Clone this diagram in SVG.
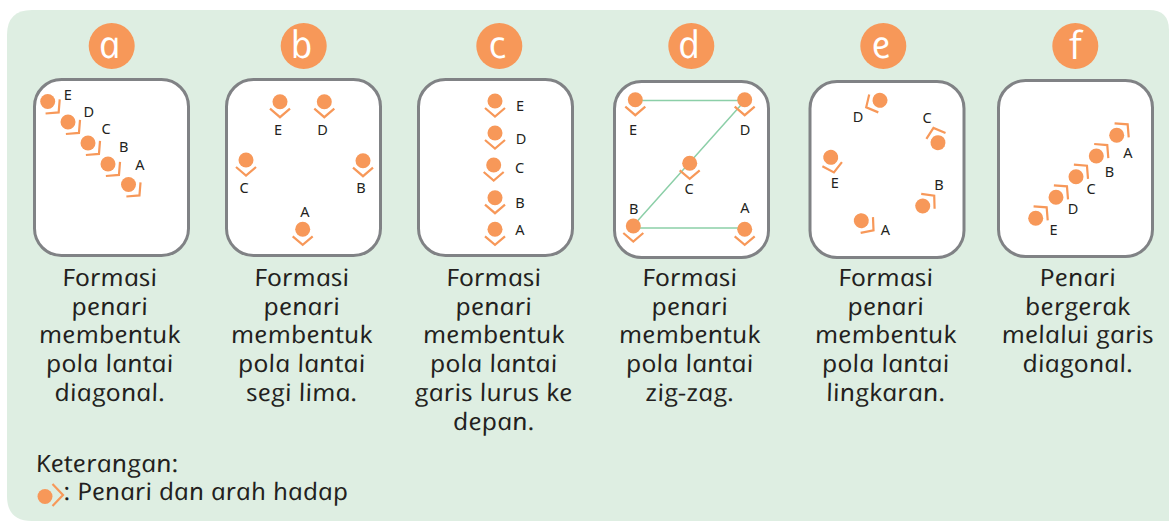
<svg xmlns="http://www.w3.org/2000/svg" width="1169" height="521" viewBox="0 0 1169 521">
<style>
.panel{fill:#fff;stroke:#808285;stroke-width:3}
.badge{fill:#f79859}
.letter{font:italic 38px "Open Sans",sans-serif;fill:#fff;text-anchor:middle}
.letter-up{font:38px "Open Sans",sans-serif;fill:#fff;text-anchor:middle}
.cap{font:italic 24px "Open Sans",sans-serif;fill:#231f20;text-anchor:middle}
.leg{font:italic 24px "Open Sans",sans-serif;fill:#231f20}
.lab{font:14.5px "Noto Sans",sans-serif;fill:#231f20;text-anchor:middle}
.conn{fill:none;stroke:#8ccfa8;stroke-width:1.5}
.chev{fill:none;stroke:#f79859;stroke-width:2.2}
</style>
<defs>
<g id="dancer"><circle r="7.5" fill="#f79859"/><path class="chev" d="M-10 7L0 15.5L10 7"/></g>
</defs>
<path d="M32 10H1149Q1169 10 1169 30V521H32Q7 521 7 496V35Q7 10 32 10Z" fill="#deeee2"/>
<g id="panel-a"><circle class="badge" cx="111.7" cy="46" r="23"/><text class="letter" transform="translate(111.7 58) skewX(12)">a</text><rect class="panel" x="34.5" y="79.5" width="154" height="176" rx="27"/>
<g><text class="cap" transform="translate(111 286) skewX(12) scale(1.115 1)">Formasi</text><text class="cap" transform="translate(111 315) skewX(12) scale(1.115 1)">penari</text><text class="cap" transform="translate(111 343) skewX(12) scale(1.115 1)">membentuk</text><text class="cap" transform="translate(111 372) skewX(12) scale(1.115 1)">pola lantai</text><text class="cap" transform="translate(111 401) skewX(12) scale(1.115 1)">diagonal.</text></g></g>
<g id="panel-b"><circle class="badge" cx="303.7" cy="46" r="23"/><text class="letter" transform="translate(303.7 58) skewX(12)">b</text><rect class="panel" x="226.5" y="79.5" width="154" height="176" rx="27"/>
<g><text class="cap" transform="translate(303 286) skewX(12) scale(1.115 1)">Formasi</text><text class="cap" transform="translate(303 315) skewX(12) scale(1.115 1)">penari</text><text class="cap" transform="translate(303 343) skewX(12) scale(1.115 1)">membentuk</text><text class="cap" transform="translate(303 372) skewX(12) scale(1.115 1)">pola lantai</text><text class="cap" transform="translate(303 401) skewX(12) scale(1.115 1)">segi lima.</text></g></g>
<g id="panel-c"><circle class="badge" cx="499.3" cy="46" r="23"/><text class="letter" transform="translate(499.3 58) skewX(12)">c</text><rect class="panel" x="418.5" y="79.5" width="154" height="176" rx="27"/>
<g><text class="cap" transform="translate(495 286) skewX(12) scale(1.115 1)">Formasi</text><text class="cap" transform="translate(495 315) skewX(12) scale(1.115 1)">penari</text><text class="cap" transform="translate(495 343) skewX(12) scale(1.115 1)">membentuk</text><text class="cap" transform="translate(495 372) skewX(12) scale(1.115 1)">pola lantai</text><text class="cap" transform="translate(495 401) skewX(12) scale(1.115 1)">garis lurus ke</text><text class="cap" transform="translate(495 430) skewX(12) scale(1.115 1)">depan.</text></g></g>
<g id="panel-d"><circle class="badge" cx="691.3" cy="46" r="23"/><text class="letter" transform="translate(691.3 58) skewX(12)">d</text><rect class="panel" x="614.5" y="81.5" width="154" height="176" rx="27"/>
<g><text class="cap" transform="translate(691 286) skewX(12) scale(1.115 1)">Formasi</text><text class="cap" transform="translate(691 315) skewX(12) scale(1.115 1)">penari</text><text class="cap" transform="translate(691 343) skewX(12) scale(1.115 1)">membentuk</text><text class="cap" transform="translate(691 372) skewX(12) scale(1.115 1)">pola lantai</text><text class="cap" transform="translate(691 401) skewX(12) scale(1.115 1)">zig-zag.</text></g></g>
<g id="panel-e"><circle class="badge" cx="883.3" cy="46" r="23"/><text class="letter" transform="translate(883.3 58) skewX(12)">e</text><rect class="panel" x="810" y="81.5" width="154" height="176" rx="27"/>
<g><text class="cap" transform="translate(887 286) skewX(12) scale(1.115 1)">Formasi</text><text class="cap" transform="translate(887 315) skewX(12) scale(1.115 1)">penari</text><text class="cap" transform="translate(887 343) skewX(12) scale(1.115 1)">membentuk</text><text class="cap" transform="translate(887 372) skewX(12) scale(1.115 1)">pola lantai</text><text class="cap" transform="translate(887 401) skewX(12) scale(1.115 1)">lingkaran.</text></g></g>
<g id="panel-f"><circle class="badge" cx="1075.3" cy="46" r="23"/><text class="letter-up" x="1075.3" y="59">f</text><rect class="panel" x="998.5" y="80.5" width="154" height="176" rx="27"/>
<g><text class="cap" transform="translate(1079 286) skewX(12) scale(1.115 1)">Penari</text><text class="cap" transform="translate(1079 315) skewX(12) scale(1.115 1)">bergerak</text><text class="cap" transform="translate(1079 343) skewX(12) scale(1.115 1)">melalui garis</text><text class="cap" transform="translate(1079 372) skewX(12) scale(1.115 1)">diagonal.</text></g></g>
<g id="connectors"><path class="conn" d="M635 100.5H745L633 226M633 228H745"/></g>
<g id="dancers-a">
<g id="a-E"><use href="#dancer" transform="translate(47.7 101.5) rotate(-45)"/><text class="lab" x="67.7" y="100">E</text></g>
<g id="a-D"><use href="#dancer" transform="translate(68 122) rotate(-45)"/><text class="lab" x="88.7" y="117">D</text></g>
<g id="a-C"><use href="#dancer" transform="translate(88 143) rotate(-45)"/><text class="lab" x="106" y="134">C</text></g>
<g id="a-B"><use href="#dancer" transform="translate(108 164) rotate(-45)"/><text class="lab" x="123.7" y="152">B</text></g>
<g id="a-A"><use href="#dancer" transform="translate(128.5 184.5) rotate(-45)"/><text class="lab" x="140" y="170">A</text></g>
</g>
<g id="dancers-b">
<g id="b-E"><use href="#dancer" transform="translate(280 101.7)"/><text class="lab" x="278" y="135">E</text></g>
<g id="b-D"><use href="#dancer" transform="translate(324.3 101.7)"/><text class="lab" x="322.5" y="135">D</text></g>
<g id="b-C"><use href="#dancer" transform="translate(246 160)"/><text class="lab" x="244" y="193">C</text></g>
<g id="b-B"><use href="#dancer" transform="translate(363 160.7)"/><text class="lab" x="361" y="193">B</text></g>
<g id="b-A"><use href="#dancer" transform="translate(302.7 229.3)"/><text class="lab" x="305" y="217">A</text></g>
</g>
<g id="dancers-c">
<g id="c-E"><use href="#dancer" transform="translate(495 101)"/><text class="lab" x="520" y="111">E</text></g>
<g id="c-D"><use href="#dancer" transform="translate(495 133)"/><text class="lab" x="521" y="144">D</text></g>
<g id="c-C"><use href="#dancer" transform="translate(493.7 165)"/><text class="lab" x="519.7" y="172.5">C</text></g>
<g id="c-B"><use href="#dancer" transform="translate(495 197.7)"/><text class="lab" x="520" y="208">B</text></g>
<g id="c-A"><use href="#dancer" transform="translate(495 229.3)"/><text class="lab" x="520" y="235">A</text></g>
</g>
<g id="dancers-d">
<g id="d-E"><use href="#dancer" transform="translate(635.3 99.7)"/><text class="lab" x="633" y="135">E</text></g>
<g id="d-D"><use href="#dancer" transform="translate(744.7 99.7)"/><text class="lab" x="745" y="135">D</text></g>
<g id="d-C"><use href="#dancer" transform="translate(689.7 163.3)"/><text class="lab" x="689" y="194">C</text></g>
<g id="d-B"><use href="#dancer" transform="translate(633.3 226)"/><text class="lab" x="633.7" y="214">B</text></g>
<g id="d-A"><use href="#dancer" transform="translate(744.7 229.3)"/><text class="lab" x="745" y="213">A</text></g>
</g>
<g id="dancers-e">
<g id="e-D"><use href="#dancer" transform="translate(880 100.3) rotate(63)"/><text class="lab" x="858" y="122">D</text></g>
<g id="e-C"><use href="#dancer" transform="translate(938 142.7) rotate(163)"/><text class="lab" x="927" y="123">C</text></g>
<g id="e-B"><use href="#dancer" transform="translate(922.7 206) rotate(-132)"/><text class="lab" x="939" y="190">B</text></g>
<g id="e-A"><use href="#dancer" transform="translate(861.3 220.7) rotate(-52)"/><text class="lab" x="885.5" y="235">A</text></g>
<g id="e-E"><use href="#dancer" transform="translate(830.7 157.3) rotate(-12)"/><text class="lab" x="834.7" y="188">E</text></g>
</g>
<g id="dancers-f">
<g id="f-A"><use href="#dancer" transform="translate(1116.7 135.3) rotate(-135)"/><text class="lab" x="1128" y="157.5">A</text></g>
<g id="f-B"><use href="#dancer" transform="translate(1096.3 156) rotate(-135)"/><text class="lab" x="1109.5" y="177">B</text></g>
<g id="f-C"><use href="#dancer" transform="translate(1076 176.7) rotate(-135)"/><text class="lab" x="1091" y="194">C</text></g>
<g id="f-D"><use href="#dancer" transform="translate(1056 197.3) rotate(-135)"/><text class="lab" x="1073" y="214">D</text></g>
<g id="f-E"><use href="#dancer" transform="translate(1035.7 218.3) rotate(-135)"/><text class="lab" x="1053.5" y="235">E</text></g>
</g>
<g id="legend">
<text class="leg" transform="translate(37 472) skewX(12) scale(1.115 1)">Keterangan:</text>
<circle cx="45" cy="496.5" r="7.5" fill="#f79859"/><path class="chev" d="M52.5 484L63 495L52.5 506"/>
<text class="leg" transform="translate(65 500) skewX(12) scale(1.095 1)">: Penari dan arah hadap</text>
</g>
</svg>
